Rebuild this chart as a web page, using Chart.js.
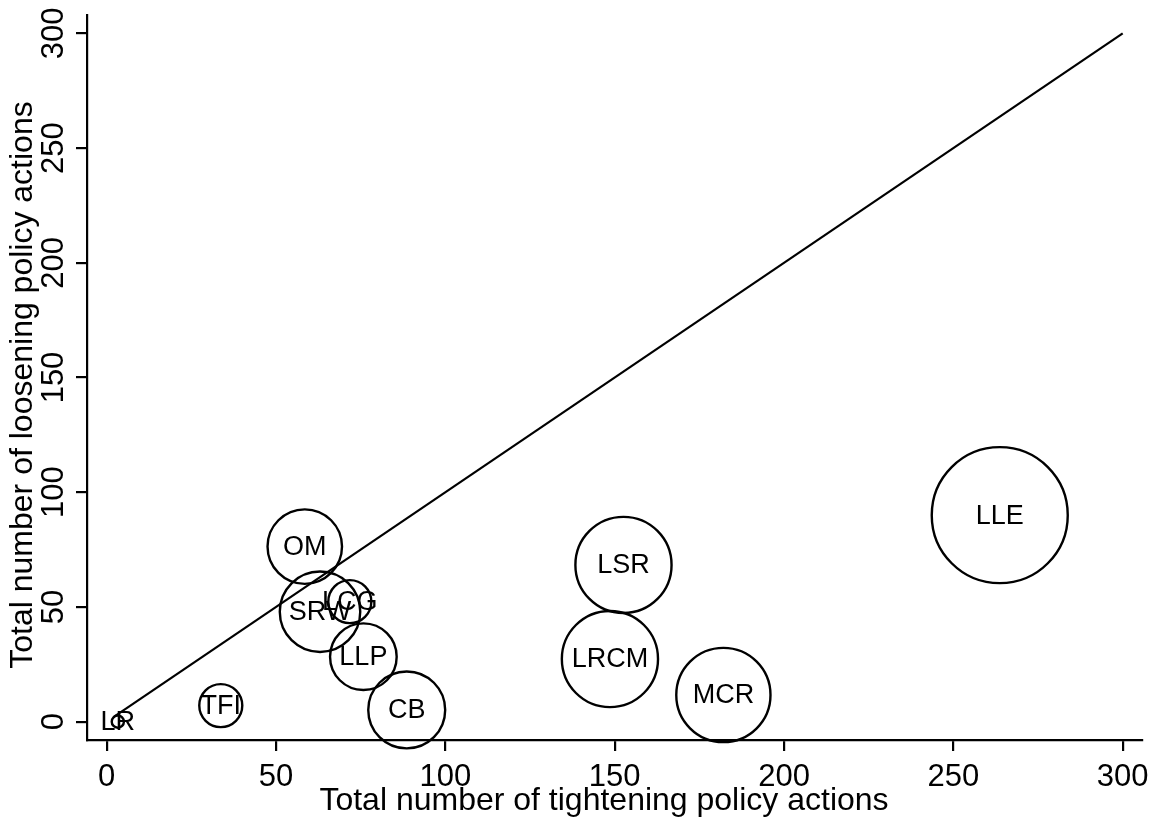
<!DOCTYPE html>
<html>
<head>
<meta charset="utf-8">
<script src="https://cdn.jsdelivr.net/npm/chart.js@4/dist/chart.umd.min.js"></script>
<style>
  html, body { margin: 0; padding: 0; background: #fff; }
  #wrap { width: 1149px; height: 826px; }
</style>
</head>
<body>
<div id="wrap"><canvas id="c" width="1149" height="826"></canvas></div>
<script>
// Macroprudential instruments: total tightening vs loosening actions
const instruments = ['LR', 'TFI', 'OM', 'SRW', 'LCG', 'LLP', 'CB', 'LSR', 'LRCM', 'MCR', 'LLE'];
const tightening  = [3.3, 33.7, 58.5, 63.0, 71.8, 75.8, 88.6, 152.6, 148.6, 182.1, 263.7];
const loosening   = [0.0, 7.0, 76.3, 47.9, 52.3, 28.3, 5.1, 68.3, 27.3, 11.6, 90.0];
// relative usage weight of each instrument (bubble area)
const usage       = [0.8, 10, 30, 35, 10, 24, 32, 50, 50, 48, 100];

// 45-degree reference line y = x
const diagonalRange = [2, 300];

const xTicks = [0, 50, 100, 150, 200, 250, 300];
const yTicks = [0, 50, 100, 150, 200, 250, 300];

const xTitle = 'Total number of tightening policy actions';
const yTitle = 'Total number of loosening policy actions';

const FONT = '"Liberation Sans", Arial, Helvetica, sans-serif';
const BUBBLE_SCALE = 6.8;

const bubbles = instruments.map((name, i) => ({
  x: tightening[i],
  y: loosening[i],
  r: BUBBLE_SCALE * Math.sqrt(usage[i]),
  label: name
}));

const textPlugin = {
  id: 'bubbleLabels',
  afterDatasetsDraw(chart) {
    const ctx = chart.ctx;
    const meta = chart.getDatasetMeta(1);
    ctx.save();
    ctx.font = '27px ' + FONT;
    ctx.fillStyle = '#000';
    ctx.textAlign = 'center';
    ctx.textBaseline = 'middle';
    meta.data.forEach((el, i) => {
      ctx.fillText(instruments[i], el.x, el.y + 1);
    });
    ctx.restore();
  },
  afterDraw(chart) {
    const ctx = chart.ctx;
    const ys = chart.scales.y;
    ctx.save();
    ctx.fillStyle = '#000';
    // rotated tick labels on the vertical axis
    ctx.font = '31px ' + FONT;
    ctx.textAlign = 'center';
    ctx.textBaseline = 'middle';
    yTicks.forEach(v => {
      const py = ys.getPixelForValue(v);
      ctx.save();
      ctx.translate(54, py);
      ctx.rotate(-Math.PI / 2);
      ctx.fillText(String(v), 0, 0);
      ctx.restore();
    });
    // axis titles
    ctx.font = '32px ' + FONT;
    ctx.textBaseline = 'alphabetic';
    ctx.fillText(xTitle, 604, 810);
    ctx.save();
    ctx.translate(32, 385);
    ctx.rotate(-Math.PI / 2);
    ctx.fillText(yTitle, 0, 0);
    ctx.restore();
    ctx.restore();
  }
};

new Chart(document.getElementById('c'), {
  data: {
    datasets: [
      {
        type: 'line',
        data: diagonalRange.map(v => ({ x: v, y: v })),
        borderColor: '#000',
        borderWidth: 2.2,
        pointRadius: 0,
        fill: false,
        tension: 0,
        clip: false,
        order: 2
      },
      {
        type: 'bubble',
        data: bubbles,
        backgroundColor: 'rgba(0,0,0,0)',
        borderColor: '#000',
        borderWidth: 2.4,
        hoverBorderWidth: 2.4,
        clip: false,
        order: 1
      }
    ]
  },
  options: {
    responsive: false,
    animation: false,
    events: [],
    layout: { autoPadding: false, padding: { top: 15, right: 7, left: 0, bottom: 0 } },
    plugins: {
      legend: { display: false },
      tooltip: { enabled: false }
    },
    scales: {
      x: {
        type: 'linear',
        position: 'bottom',
        min: -5.8,
        max: 305.7,
        afterBuildTicks(scale) { scale.ticks = xTicks.map(v => ({ value: v })); },
        afterFit(scale) {
          scale.height = 86;
          scale.paddingLeft = 0; scale.paddingRight = 0;
        },
        border: { display: true, color: '#000', width: 2.2 },
        grid: { drawOnChartArea: false, drawTicks: true, tickLength: 11, color: '#000', lineWidth: 2.2 },
        ticks: {
          padding: 8,
          color: '#000',
          font: { family: FONT, size: 31 },
          maxRotation: 0,
          autoSkip: false
        }
      },
      y: {
        type: 'linear',
        position: 'left',
        min: -8,
        max: 308,
        afterBuildTicks(scale) { scale.ticks = yTicks.map(v => ({ value: v })); },
        afterFit(scale) {
          scale.width = 87;
          scale.paddingTop = 0; scale.paddingBottom = 0;
        },
        border: { display: true, color: '#000', width: 2.2 },
        grid: { drawOnChartArea: false, drawTicks: true, tickLength: 11, color: '#000', lineWidth: 2.2 },
        ticks: { display: false }
      }
    }
  },
  plugins: [textPlugin]
});
</script>
</body>
</html>
